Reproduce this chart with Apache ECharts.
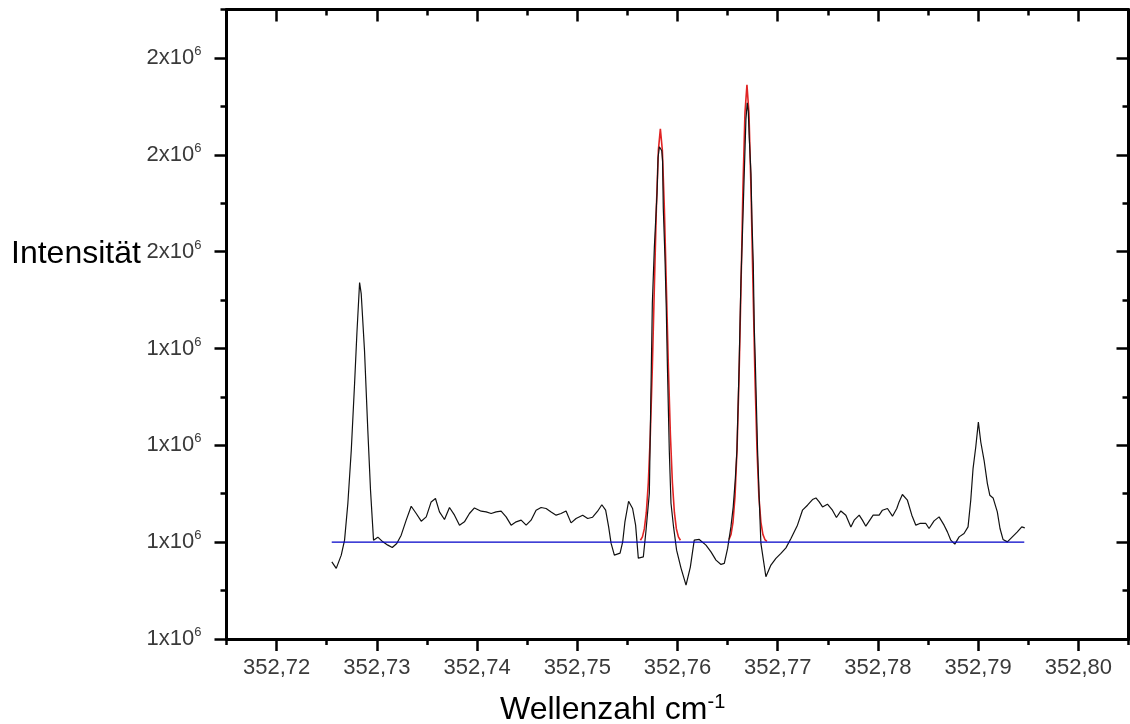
<!DOCTYPE html>
<html>
<head>
<meta charset="utf-8">
<script src="https://cdn.jsdelivr.net/npm/echarts@6/dist/echarts.min.js"></script>
<style>html,body{margin:0;padding:0;background:#fff}#c{width:1130px;height:724px}</style>
</head>
<body>
<div id="c"></div>
<script>
// Wavenumber (cm^-1) and intensity (in units of 10^6)
const spectrumX = [
352.72551,352.72595,352.72645,352.72678,352.72711,352.72745,352.72778,352.72801,352.72828,352.72844,
352.72877,352.72910,352.72937,352.72967,352.73010,352.73060,352.73110,352.73154,352.73199,352.73243,
352.73293,352.73343,352.73393,352.73443,352.73493,352.73542,352.73585,352.73625,352.73675,352.73725,
352.73775,352.73825,352.73874,352.73924,352.73974,352.74041,352.74091,352.74141,352.74190,352.74240,
352.74290,352.74340,352.74390,352.74440,352.74490,352.74539,352.74589,352.74639,352.74689,352.74739,
352.74789,352.74838,352.74888,352.74938,352.74988,352.75054,352.75104,352.75153,352.75203,352.75245,
352.75283,352.75313,352.75337,352.75370,352.75427,352.75453,352.75475,352.75512,352.75552,352.75582,
352.75609,352.75659,352.75686,352.75719,352.75749,352.75769,352.75796,352.75806,352.75819,352.75826,
352.75843,352.75851,352.75858,352.75875,352.75888,352.75898,352.75918,352.75935,352.75961,352.75991,
352.76035,352.76085,352.76128,352.76167,352.76217,352.76284,352.76334,352.76384,352.76434,352.76467,
352.76500,352.76533,352.76556,352.76576,352.76593,352.76616,352.76623,352.76633,352.76649,352.76666,
352.76683,352.76696,352.76706,352.76716,352.76733,352.76743,352.76756,352.76766,352.76776,352.76799,
352.76816,352.76832,352.76882,352.76932,352.76982,352.77032,352.77082,352.77132,352.77197,352.77247,
352.77297,352.77347,352.77381,352.77414,352.77447,352.77496,352.77546,352.77586,352.77630,352.77680,
352.77730,352.77763,352.77813,352.77845,352.77879,352.77919,352.77952,352.78012,352.78045,352.78095,
352.78145,352.78188,352.78211,352.78244,352.78294,352.78338,352.78378,352.78418,352.78478,352.78510,
352.78560,352.78610,352.78660,352.78693,352.78727,352.78767,352.78810,352.78859,352.78899,352.78926,
352.78949,352.78976,352.79002,352.79026,352.79059,352.79092,352.79116,352.79149,352.79191,352.79218,
352.79248,352.79291,352.79341,352.79391,352.79435,352.79465
];
const spectrumY = [
0.9594,0.9458,0.9732,1.0041,1.0804,1.1897,1.3278,1.4309,1.5361,1.5134,
1.3959,1.2309,1.1072,1.0041,1.0103,1.0006,0.9938,0.9891,0.9973,1.0144,
1.0454,1.0742,1.0592,1.0433,1.0522,1.0831,1.0901,1.0625,1.0468,1.0715,
1.0557,1.0351,1.0419,1.0592,1.0707,1.0639,1.0625,1.0592,1.0625,1.0639,
1.0522,1.0351,1.0419,1.0454,1.0351,1.0454,1.0660,1.0715,1.0695,1.0625,
1.0557,1.0592,1.0645,1.0398,1.0489,1.0557,1.0489,1.0515,1.0639,1.0773,
1.0660,1.0315,0.9979,0.9732,0.9773,1.0006,1.0412,1.0845,1.0695,1.0351,
0.9670,0.9697,1.0247,1.1010,1.4928,1.6082,1.7216,1.7938,1.8165,1.8186,
1.8082,1.7876,1.6907,1.5876,1.4825,1.3753,1.1897,1.0804,1.0309,0.9835,
0.9464,0.9113,0.9485,1.0041,1.0056,0.9938,0.9800,0.9629,0.9540,0.9561,
0.9870,1.0315,1.0728,1.1278,1.1897,1.3753,1.4433,1.5402,1.6433,1.7608,
1.8742,1.9072,1.8907,1.8351,1.7608,1.6639,1.5753,1.4433,1.3753,1.1897,
1.0866,0.9979,0.9285,0.9526,0.9664,0.9767,0.9882,1.0076,1.0351,1.0660,
1.0763,1.0880,1.0913,1.0831,1.0728,1.0784,1.0660,1.0509,1.0645,1.0557,
1.0315,1.0454,1.0557,1.0454,1.0330,1.0454,1.0557,1.0557,1.0660,1.0695,
1.0536,1.0695,1.0831,1.0984,1.0866,1.0557,1.0351,1.0386,1.0386,1.0282,
1.0439,1.0522,1.0351,1.0212,1.0041,0.9959,1.0109,1.0179,1.0315,1.0866,
1.1520,1.1965,1.2480,1.2068,1.1691,1.1210,1.0969,1.0913,1.0625,1.0282,
1.0056,1.0006,1.0109,1.0212,1.0315,1.0295
];
// Fitted peak 1 (red)
const fit1X = [352.75630,352.75650,352.75669,352.75689,352.75709,352.75729,352.75749,352.75769,352.75789,352.75809,352.75829,
               352.75849,352.75869,352.75889,352.75909,352.75929,352.75949,352.75969,352.75989,352.76009,352.76029];
const fit1Y = [1.0039,1.0110,1.0274,1.0613,1.1233,1.2227,1.3612,1.5262,1.6885,1.8090,1.8536,
               1.8090,1.6885,1.5262,1.3612,1.2227,1.1233,1.0613,1.0274,1.0110,1.0039];
// Fitted peak 2 (red)
const fit2X = [352.76514,352.76534,352.76554,352.76574,352.76594,352.76614,352.76634,352.76653,352.76673,352.76693,
               352.76713,352.76733,352.76753,352.76773,352.76793,352.76812,352.76832,352.76852,352.76872,352.76892];
const fit2Y = [1.0054,1.0160,1.0415,1.0951,1.1917,1.3403,1.5319,1.7316,1.8860,1.9443,
               1.8860,1.7316,1.5319,1.3403,1.1917,1.0951,1.0415,1.0160,1.0054,1.0017];
// Baseline (blue)
const baseX = [352.72550, 352.79460];
const baseY = [1.0, 1.0];

const xTicks = [352.72,352.73,352.74,352.75,352.76,352.77,352.78,352.79,352.80];
const yTicks = [0.8,1.0,1.2,1.4,1.6,1.8,2.0];
const xMin = 352.715, xMax = 352.805, xMinorStep = 0.005;
const yMin = 0.8, yMax = 2.1, yMinorStep = 0.1;

const zip = (a, b) => a.map((v, i) => [v, b[i]]);
const lineW = 3, tickW = 2.5;
const FONT = '"Liberation Sans", Arial, Helvetica, sans-serif';

function xAxisPair(pos, inside, labels) {
  return [{
    type: 'value', position: pos, min: xMin, max: xMax, interval: xMinorStep,
    axisLine: { show: true, onZero: false, lineStyle: { color: '#000', width: lineW } },
    axisTick: { show: true, inside: inside, length: 6, lineStyle: { color: '#000', width: tickW } },
    axisLabel: labels ? {
      show: true, customValues: xTicks, margin: 18, fontSize: 22, color: '#3a3a3a', fontFamily: FONT,
      formatter: v => v.toFixed(2).replace('.', ',')
    } : { show: false },
    splitLine: { show: false }
  }, {
    type: 'value', position: pos, min: xMin, max: xMax,
    axisLine: { show: false, onZero: false },
    axisTick: { show: true, inside: inside, length: 12, customValues: xTicks, lineStyle: { color: '#000', width: tickW } },
    axisLabel: { show: false }, splitLine: { show: false }
  }];
}
function yAxisPair(pos, inside, labels) {
  return [{
    type: 'value', position: pos, min: yMin, max: yMax, interval: yMinorStep,
    axisLine: { show: true, onZero: false, lineStyle: { color: '#000', width: lineW } },
    axisTick: { show: true, inside: inside, length: 6, lineStyle: { color: '#000', width: tickW } },
    axisLabel: labels ? {
      show: true, customValues: yTicks, margin: 25, color: '#3a3a3a', fontFamily: FONT,
      formatter: v => '{b|' + Math.round(v) + 'x10}{s|6}',
      rich: {
        b: { fontSize: 22, color: '#3a3a3a', fontFamily: FONT, lineHeight: 26 },
        s: { fontSize: 13, color: '#3a3a3a', fontFamily: FONT, verticalAlign: 'top', lineHeight: 26 }
      }
    } : { show: false },
    splitLine: { show: false }
  }, {
    type: 'value', position: pos, min: yMin, max: yMax,
    axisLine: { show: false, onZero: false },
    axisTick: { show: true, inside: inside, length: 12, customValues: yTicks, lineStyle: { color: '#000', width: tickW } },
    axisLabel: { show: false }, splitLine: { show: false }
  }];
}

const chart = echarts.init(document.getElementById('c'), null, { renderer: 'canvas' });
chart.setOption({
  animation: false,
  backgroundColor: '#fff',
  grid: { left: 226.5, right: 1.5, top: 9.5, bottom: 85, containLabel: false },
  xAxis: [...xAxisPair('bottom', false, true), ...xAxisPair('top', true, false)],
  yAxis: [...yAxisPair('left', false, true), ...yAxisPair('right', true, false)],
  graphic: [
    { type: 'text', left: 11, top: 238, style: { text: 'Intensität', fontSize: 32, fill: '#000', fontFamily: FONT } },
    { type: 'text', left: 500, top: 692, style: {
        text: '{a|Wellenzahl cm}{b|-1}', fill: '#000', fontFamily: FONT,
        rich: { a: { fontSize: 32, fill: '#000', fontFamily: FONT, lineHeight: 36 },
                b: { fontSize: 20, fill: '#000', fontFamily: FONT, verticalAlign: 'top', lineHeight: 36 } }
    } }
  ],
  series: [
    { type: 'line', name: 'Fit 1', data: zip(fit1X, fit1Y), xAxisIndex: 0, yAxisIndex: 0, showSymbol: false,
      lineStyle: { color: '#e02424', width: 1.6 }, z: 2 },
    { type: 'line', name: 'Fit 2', data: zip(fit2X, fit2Y), xAxisIndex: 0, yAxisIndex: 0, showSymbol: false,
      lineStyle: { color: '#e02424', width: 1.6 }, z: 2 },
    { type: 'line', name: 'Spektrum', data: zip(spectrumX, spectrumY), xAxisIndex: 0, yAxisIndex: 0, showSymbol: false,
      lineStyle: { color: '#111', width: 1.2 }, z: 3 },
    { type: 'line', name: 'Basislinie', data: zip(baseX, baseY), xAxisIndex: 0, yAxisIndex: 0, showSymbol: false,
      lineStyle: { color: '#0000c8', width: 1.3 }, z: 4 }
  ]
});
</script>
</body>
</html>
